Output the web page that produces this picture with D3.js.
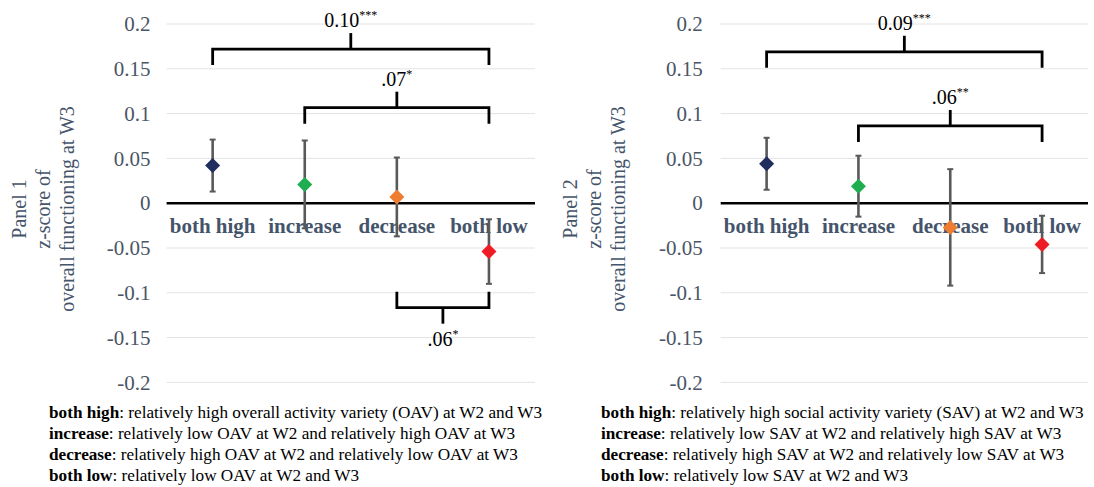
<!DOCTYPE html>
<html>
<head>
<meta charset="utf-8">
<script src="https://cdnjs.cloudflare.com/ajax/libs/d3/7.8.5/d3.min.js"></script>
<style>
    body { margin: 0; background: #fff; }
    svg { display: block; }
</style>
</head>
<body>
<div id="chart"></div>
<script>
var categories = ['both high', 'increase', 'decrease', 'both low'];

var yTicks = [0.2, 0.15, 0.1, 0.05, 0, -0.05, -0.1, -0.15, -0.2];
var yTickLabels = ['0.2', '0.15', '0.1', '0.05', '0', '-0.05', '-0.1', '-0.15', '-0.2'];

// mean z-score and half-width of the error bar
var panel1Means = [0.042, 0.021, 0.007, -0.054];
var panel1Errors = [0.029, 0.049, 0.044, 0.036];
var panel2Means = [0.044, 0.019, -0.027, -0.046];
var panel2Errors = [0.029, 0.034, 0.065, 0.032];

// significance brackets: categories joined, level of the bar, label
var panel1Brackets = [
    { from: 0, to: 3, level: 0.172, text: '0.10', stars: '***', side: 'up' },
    { from: 1, to: 3, level: 0.1066, text: '.07', stars: '*', side: 'up' },
    { from: 2, to: 3, level: -0.1166, text: '.06', stars: '*', side: 'down' }
];
var panel2Brackets = [
    { from: 0, to: 3, level: 0.169, text: '0.09', stars: '***', side: 'up' },
    { from: 1, to: 3, level: 0.0862, text: '.06', stars: '**', side: 'up' }
];

var panel1Title = ['Panel 1', 'z-score of', 'overall functioning at W3'];
var panel2Title = ['Panel 2', 'z-score of', 'overall functioning at W3'];

var panel1Notes = [
    ['both high', ': relatively high overall activity variety (OAV) at W2 and W3'],
    ['increase', ': relatively low OAV at W2 and relatively high OAV at W3'],
    ['decrease', ': relatively high OAV at W2 and relatively low OAV at W3'],
    ['both low', ': relatively low OAV at W2 and W3']
];
var panel2Notes = [
    ['both high', ': relatively high social activity variety (SAV) at W2 and W3'],
    ['increase', ': relatively low SAV at W2 and relatively high SAV at W3'],
    ['decrease', ': relatively high SAV at W2 and relatively low SAV at W3'],
    ['both low', ': relatively low SAV at W2 and W3']
];

var pointColours = ['#1f2d5f', '#1fae4f', '#ed7d31', '#ee1c25'];
var SERIF = '"Liberation Serif", "Times New Roman", serif';
var TEXT_BLUE = '#44546a';

var width = 1094, height = 487;

var svg = d3.select('#chart')
    .append('svg')
    .attr('width', width)
    .attr('height', height);

svg.append('rect').attr('width', width).attr('height', height).attr('fill', '#fff');

var drawPanel = function (opts) {
    var g = svg.append('g');

    var x = d3.scaleBand().domain(categories).range([opts.left, opts.right]);
    var y = d3.scaleLinear().domain([-0.2, 0.2]).range([382.4, 24]);
    var cx = function (i) { return x(categories[i]) + x.bandwidth() / 2; };

    // gridlines
    g.selectAll('.grid')
        .data(yTicks.filter(function (d) { return d !== 0; }))
        .enter()
        .append('line')
        .attr('x1', opts.left)
        .attr('x2', opts.right)
        .attr('y1', function (d) { return y(d); })
        .attr('y2', function (d) { return y(d); })
        .attr('stroke', '#e3e3e3')
        .attr('stroke-width', 1);

    var yAxis = d3.axisLeft(y)
        .tickValues(yTicks)
        .tickSize(0)
        .tickPadding(opts.tickPad)
        .tickFormat(function (d, i) { return yTickLabels[i]; });

    var axis_g = g.append('g')
        .attr('transform', 'translate(' + opts.left + ',0)')
        .call(yAxis)
        .attr('font-family', SERIF)
        .attr('font-size', 21);
    axis_g.select('.domain').remove();
    axis_g.selectAll('text')
        .style('font-family', SERIF)
        .style('font-size', '21px')
        .attr('fill', '#4a5566');

    // category labels sit just under the zero line
    g.selectAll('.cat')
        .data(categories)
        .enter()
        .append('text')
        .attr('x', function (d) { return x(d) + x.bandwidth() / 2; })
        .attr('y', y(0) + 30)
        .attr('text-anchor', 'middle')
        .attr('font-family', SERIF)
        .attr('font-weight', 'bold')
        .attr('font-size', 21)
        .attr('fill', TEXT_BLUE)
        .text(function (d) { return d; });

    g.append('line')
        .attr('x1', opts.left)
        .attr('x2', opts.right)
        .attr('y1', y(0))
        .attr('y2', y(0))
        .attr('stroke', '#000')
        .attr('stroke-width', 2.5);

    // error bars
    var bars = g.selectAll('.err')
        .data(opts.means)
        .enter()
        .append('g');
    bars.append('line')
        .attr('x1', function (d, i) { return cx(i); })
        .attr('x2', function (d, i) { return cx(i); })
        .attr('y1', function (d, i) { return y(d + opts.errors[i]); })
        .attr('y2', function (d, i) { return y(d - opts.errors[i]); })
        .attr('stroke', '#595959')
        .attr('stroke-width', 2.6);
    [1, -1].forEach(function (sign) {
        bars.append('line')
            .attr('x1', function (d, i) { return cx(i) - 3; })
            .attr('x2', function (d, i) { return cx(i) + 3; })
            .attr('y1', function (d, i) { return y(d + sign * opts.errors[i]); })
            .attr('y2', function (d, i) { return y(d + sign * opts.errors[i]); })
            .attr('stroke', '#595959')
            .attr('stroke-width', 2);
    });

    // diamonds
    g.selectAll('.pt')
        .data(opts.means)
        .enter()
        .append('path')
        .attr('d', function (d, i) {
            var px = cx(i), py = y(d), r = 7.5;
            return 'M' + px + ',' + (py - r) + 'L' + (px + r) + ',' + py +
                'L' + px + ',' + (py + r) + 'L' + (px - r) + ',' + py + 'Z';
        })
        .attr('fill', function (d, i) { return pointColours[i]; });

    // significance brackets
    opts.brackets.forEach(function (b) {
        var x1 = cx(b.from), x2 = cx(b.to), mid = (x1 + x2) / 2;
        var yb = y(b.level);
        var dir = b.side === 'up' ? 1 : -1;
        var leg = 16, tick = 16;
        g.append('path')
            .attr('d', 'M' + x1 + ',' + (yb + dir * leg) + 'L' + x1 + ',' + yb +
                'L' + x2 + ',' + yb + 'L' + x2 + ',' + (yb + dir * leg))
            .attr('fill', 'none')
            .attr('stroke', '#000')
            .attr('stroke-width', 2.8);
        g.append('line')
            .attr('x1', mid).attr('x2', mid)
            .attr('y1', yb).attr('y2', yb - dir * tick)
            .attr('stroke', '#000')
            .attr('stroke-width', 2.8);
        var label = g.append('text')
            .attr('x', mid)
            .attr('y', b.side === 'up' ? yb - tick - 6 : yb + tick + 22)
            .attr('text-anchor', 'middle')
            .style('font-family', SERIF)
            .style('font-size', '20px')
            .attr('fill', '#000');
        label.append('tspan').text(b.text);
        label.append('tspan')
            .attr('dy', -8)
            .style('font-size', '12px')
            .text(b.stars);
    });

    // axis title, three rotated lines
    opts.title.forEach(function (t, i) {
        g.append('text')
            .attr('transform', 'translate(' + (opts.titleX + i * 24) + ',209) rotate(-90)')
            .attr('text-anchor', 'middle')
            .attr('font-family', SERIF)
            .attr('font-size', 20)
            .attr('fill', TEXT_BLUE)
            .text(t);
    });

    // notes under the chart
    opts.notes.forEach(function (n, i) {
        var t = g.append('text')
            .attr('x', opts.notesX)
            .attr('y', 418 + i * 21)
            .attr('font-family', SERIF)
            .attr('font-size', 17.2)
            .attr('fill', '#000');
        t.append('tspan').attr('font-weight', 'bold').text(n[0]);
        t.append('tspan').text(n[1]);
    });
};

drawPanel({
    left: 166.6, right: 535, tickPad: 16, titleX: 26, notesX: 49,
    means: panel1Means, errors: panel1Errors, brackets: panel1Brackets,
    title: panel1Title, notes: panel1Notes
});

drawPanel({
    left: 720.7, right: 1088, tickPad: 18, titleX: 577, notesX: 601,
    means: panel2Means, errors: panel2Errors, brackets: panel2Brackets,
    title: panel2Title, notes: panel2Notes
});
</script>
</body>
</html>
